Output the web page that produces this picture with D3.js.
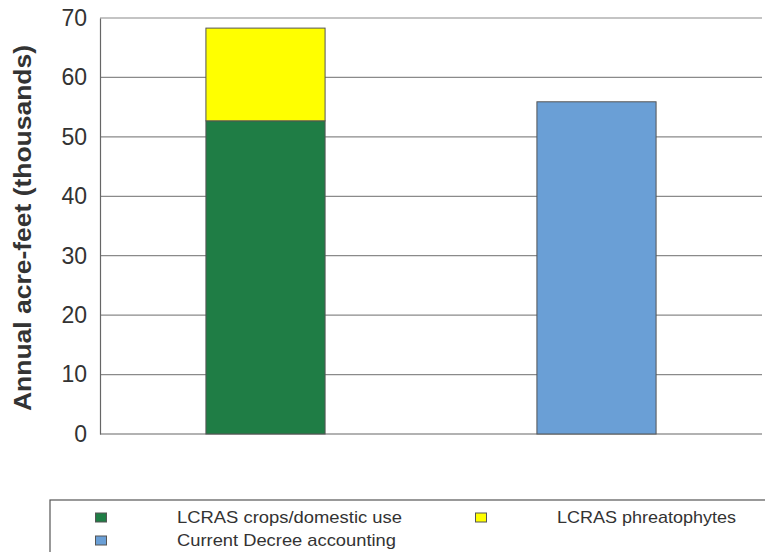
<!DOCTYPE html>
<html><head><meta charset="utf-8">
<script src="https://cdn.jsdelivr.net/npm/d3@7"></script>
<style>body{margin:0;background:#fff;}svg{display:block;font-family:Arial,"Liberation Sans",sans-serif;}</style>
</head><body>
<script>
const categories = ["LCRAS", "Current Decree"];
const seriesNames = ["LCRAS crops/domestic use", "LCRAS phreatophytes", "Current Decree accounting"];
const cropsValues = [52.7, 0];
const phreatoValues = [15.6, 0];
const decreeValues = [0, 55.9];
const colors = ["#1f7d45", "#ffff00", "#6a9fd6"];
const yTicks = [0, 10, 20, 30, 40, 50, 60, 70];

const W = 765, H = 552;
const m = {left: 100, right: 3, top: 18, bottom: 118};
const svg = d3.select("body").append("svg").attr("width", W).attr("height", H);

const x = d3.scaleBand().domain(categories).range([m.left, W - m.right]).paddingInner(0.64).paddingOuter(0.32);
const y = d3.scaleLinear().domain([0, 70]).range([H - m.bottom, m.top]);

// gridlines
svg.append("g").selectAll("line").data(yTicks.filter(d => d > 0)).join("line")
  .attr("x1", m.left).attr("x2", W - m.right)
  .attr("y1", d => y(d)).attr("y2", d => y(d))
  .attr("stroke", "#8a8a8a").attr("stroke-width", 1.2);

// axis
const ax = svg.append("g").attr("transform", `translate(${m.left},0)`)
  .call(d3.axisLeft(y).tickValues(yTicks).tickSize(0).tickPadding(13));
ax.select(".domain").attr("stroke", "#666").attr("stroke-width", 1.2);
ax.selectAll("text").attr("font-size", 23).attr("fill", "#333").attr("font-family", "Arial, 'Liberation Sans', sans-serif");

// bottom axis line
svg.append("line").attr("x1", m.left).attr("x2", W - m.right).attr("y1", y(0)).attr("y2", y(0))
  .attr("stroke", "#666").attr("stroke-width", 1.2);

// stacked bars
const rows = categories.map((c, i) => ({cat: c, crops: cropsValues[i], phreato: phreatoValues[i], decree: decreeValues[i]}));
const stack = d3.stack().keys(["crops", "phreato", "decree"])(rows);
svg.append("g").selectAll("g").data(stack).join("g")
  .attr("fill", (d, i) => colors[i])
  .selectAll("rect").data(d => d.filter(p => p[1] - p[0] > 0)).join("rect")
  .attr("x", d => x(d.data.cat)).attr("width", x.bandwidth())
  .attr("y", d => y(d[1])).attr("height", d => y(d[0]) - y(d[1]))
  .attr("stroke", "#555").attr("stroke-width", 1);

// y title
svg.append("text").attr("transform", `translate(31,228) rotate(-90)`)
  .attr("text-anchor", "middle").attr("font-size", 24).attr("font-weight", "bold").attr("fill", "#333")
  .attr("textLength", 366).attr("lengthAdjust", "spacingAndGlyphs")
  .text("Annual acre-feet (thousands)");

// legend
const lg = svg.append("g");
lg.append("rect").attr("x", 50).attr("y", 500).attr("width", 720).attr("height", 70)
  .attr("fill", "none").attr("stroke", "#555").attr("stroke-width", 1.2);
const legendPos = [[101, 517], [481, 517], [101, 540]];
const legendLen = [225, 179, 219];
seriesNames.forEach((n, i) => {
  const [lx, ly] = legendPos[i];
  lg.append("rect").attr("x", lx - 5.5).attr("y", ly - 4).attr("width", 11).attr("height", 9)
    .attr("fill", colors[i]).attr("stroke", "#555").attr("stroke-width", 1);
  lg.append("text").attr("x", lx + 76).attr("y", ly + 5.5).attr("font-size", 17).attr("fill", "#333")
    .attr("textLength", legendLen[i]).attr("lengthAdjust", "spacingAndGlyphs").text(n);
});
</script>
</body></html>
